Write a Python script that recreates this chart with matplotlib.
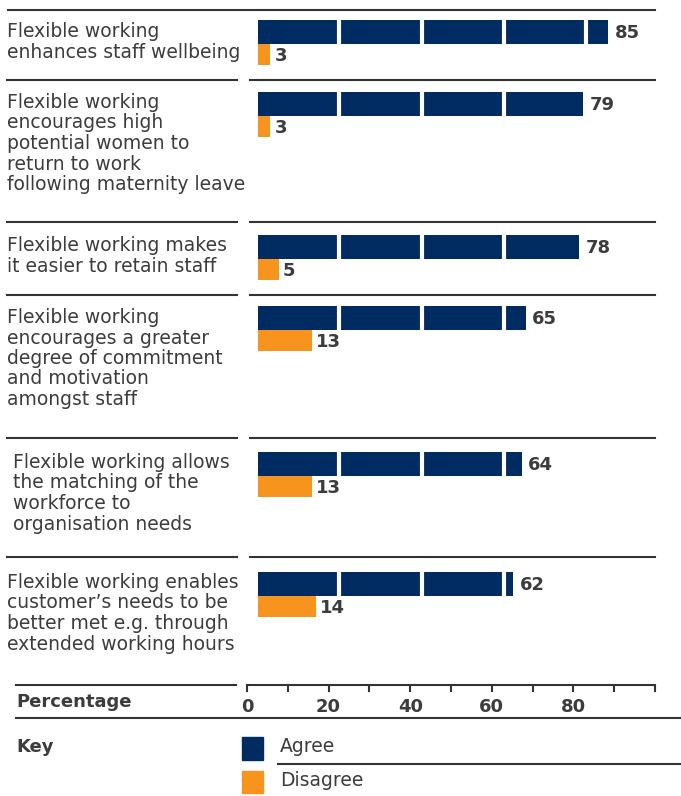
import matplotlib
matplotlib.use("Agg")
import matplotlib.pyplot as plt
from matplotlib.transforms import Affine2D

# statements and survey results (%)
statements = [
    "Flexible working\nenhances staff wellbeing",
    "Flexible working\nencourages high\npotential women to\nreturn to work\nfollowing maternity leave",
    "Flexible working makes\nit easier to retain staff",
    "Flexible working\nencourages a greater\ndegree of commitment\nand motivation\namongst staff",
    "Flexible working allows\nthe matching of the\nworkforce to\norganisation needs",
    "Flexible working enables\ncustomer\u2019s needs to be\nbetter met e.g. through\nextended working hours",
]
agree = [85, 79, 78, 65, 64, 62]
disagree = [3, 3, 5, 13, 13, 14]
axis_ticks = [0, 10, 20, 30, 40, 50, 60, 70, 80, 90, 100]
axis_labels = ["0", "", "20", "", "40", "", "60", "", "80", "", ""]

navy = "#002c62"
orange = "#f7941d"
txt = "#3c3c3c"
rule = "#333333"

W, H = 681, 796
plt.rcParams['font.family'] = ['DejaVu Sans']

fig = plt.figure(figsize=(W / 100, H / 100), dpi=100)
pix = Affine2D().scale(1 / W, -1 / H).translate(0, 1) + fig.transFigure

# bar axes: x in percent, y in pixels from top
x0, scale = 258, 4.12
ax = fig.add_axes([0, 0, 1, 1])
ax.set_xlim(-x0 / scale, (W - x0) / scale)
ax.set_ylim(H, 0)
ax.axis("off")

row_lines = [80, 222, 295, 438, 557]
bar_top = [20, 92, 235, 306, 452, 572]
label_y = [22, 93, 236, 308, 453, 573]
label_x = [7, 7, 7, 7, 13, 7]

# top rule
ax.plot([8, 655], [10, 10], color=rule, lw=1.5, transform=pix)
for y in row_lines:
    ax.plot([7, 237], [y, y], color=rule, lw=1.5, transform=pix)
    ax.plot([250, 655], [y, y], color=rule, lw=1.5, transform=pix)

for i in range(len(statements)):
    yt = bar_top[i]
    ax.barh(yt + 12, agree[i], height=24, color=navy, left=0)
    ax.barh(yt + 34.5, disagree[i], height=21, color=orange, left=0)
    # white gaps in agree bars
    for g in [20, 40, 60, 80]:
        if g < agree[i]:
            ax.vlines(g - 0.3, yt - 1, yt + 25, color="white", lw=3)
    ax.text(agree[i] + 1.5, yt + 13, str(agree[i]), fontsize=13, fontweight="bold",
            color=txt, va="center", ha="left")
    ax.text(disagree[i] + 1.0, yt + 36, str(disagree[i]), fontsize=13, fontweight="bold",
            color=txt, va="center", ha="left")
    ax.text(label_x[i], label_y[i], statements[i], transform=pix, fontsize=13.5,
            color=txt, va="top", ha="left", linespacing=1.1)

# percentage scale
ax.plot([16, 236], [685, 685], color=rule, lw=1.5, transform=pix)
ax2 = fig.add_axes([247 / W, 1 - 685 / H, (655 - 247) / W, 0.001])
ax2.set_xlim(0, 100)
ax2.set_ylim(0, 1)
for s in ["top", "left", "right"]:
    ax2.spines[s].set_visible(False)
ax2.spines["bottom"].set_color(rule)
ax2.spines["bottom"].set_linewidth(1.5)
ax2.set_yticks([])
ax2.set_xticks(axis_ticks)
ax2.set_xticklabels(axis_labels, fontsize=13, fontweight="bold", color=txt)
ax2.tick_params(axis="x", direction="out", length=5, width=1.5, color=rule, pad=4)
ax2.patch.set_visible(False)

ax.text(16, 702, "Percentage", transform=pix, fontsize=13, fontweight="bold",
        color=txt, va="center", ha="left")

# key
ax.plot([16, 681], [718, 718], color=rule, lw=1.5, transform=pix)
ax.text(16, 747, "Key", transform=pix, fontsize=13, fontweight="bold",
        color=txt, va="center", ha="left")
fig.patches.append(plt.Rectangle((242, 737), 21, 23, transform=pix, color=navy))
fig.patches.append(plt.Rectangle((242, 771), 21, 22, transform=pix, color=orange))
ax.text(280, 747, "Agree", transform=pix, fontsize=13.5, color=txt, va="center", ha="left")
ax.plot([278, 681], [764, 764], color=rule, lw=1.5, transform=pix)
ax.text(280, 781, "Disagree", transform=pix, fontsize=13.5, color=txt, va="center", ha="left")

fig.savefig("out.png", dpi=100)
